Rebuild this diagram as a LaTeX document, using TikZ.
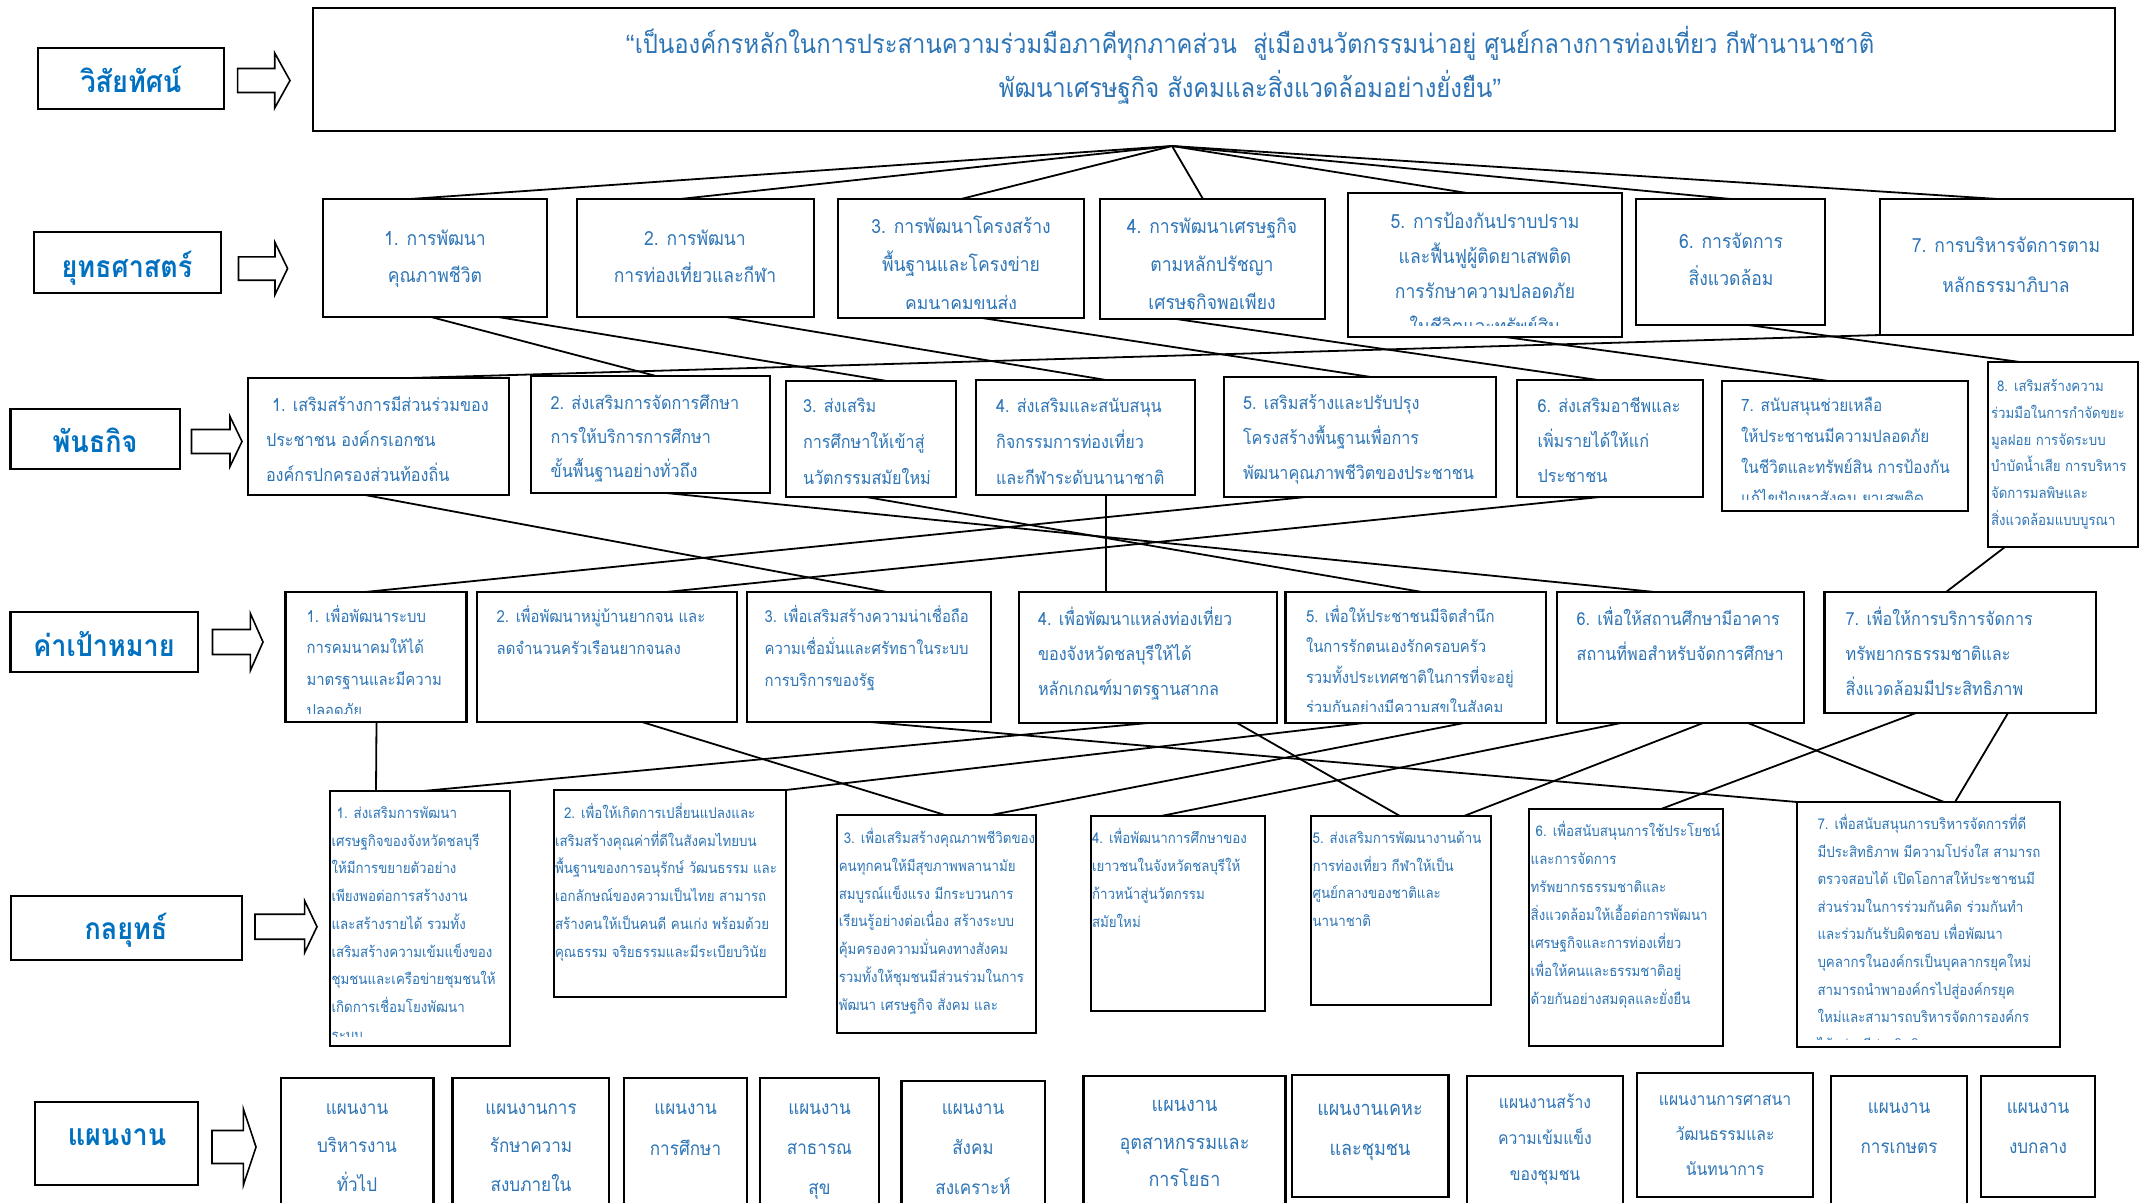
\documentclass[tikz,border=0pt]{standalone}
\usepackage{fontspec}
\newfontfamily\thai[Script=Thai,FakeStretch=0.9]{Loma}
\newfontfamily\latq{Liberation Sans}
\usetikzlibrary{fit}
\definecolor{txtblue}{RGB}{46,117,182}
\definecolor{labblue}{RGB}{0,112,192}
\newcommand\fs[2]{\thai\fontsize{#1}{#2}\selectfont}
% #1 name, #2 #3 corners, #4 clip inset bottom, #5 node options (at = x, first baseline - 34), #6 text
\newcommand\boxtext[6]{%
  \node[bx, fit={#2 #3}] (#1) {};
  \begin{scope}
    \clip ([xshift=1pt,yshift=-1pt]#1.north west) rectangle ([xshift=-1pt,yshift=#4pt]#1.south east);
    \node[#5] (#1t) {\rule{0pt}{34pt}#6};
  \end{scope}}
\newcommand\blockarrow[6]{%
  \draw[barrow] (#1,{#4-#5}) -- (#2,{#4-#5}) -- (#2,{#4-#6}) -- (#3,#4) -- (#2,{#4+#6}) -- (#2,{#4+#5}) -- (#1,{#4+#5}) -- cycle;}
\begin{document}
\begin{tikzpicture}[x=1pt,y=-1pt,
  bx/.style={draw=black, line width=2.2pt, inner sep=0pt, outer sep=0pt},
  lab/.style={font=\thai\bfseries\fontsize{30}{36}\selectfont, text=labblue, anchor=base, inner sep=0pt},
  tx/.style={text=txtblue, inner sep=0pt, outer sep=0pt},
  txl/.style={tx, align=left, anchor=north west},
  txc/.style={tx, align=center, anchor=north},
  conn/.style={draw=black, line width=1.8pt},
  barrow/.style={draw=black, line width=1.6pt, fill=white, line join=miter}]
\clip (0,0) rectangle (2154,1202);
\fill[white] (0,0) rectangle (2154,1202);

% ---------- left labels ----------
\node[bx, fit={(38,48)(224,109)}] (l1) {};
\node[lab] (l1t) at (131,92) {วิสัยทัศน์};
\node[bx, fit={(34,232)(221,293)}] (l2) {};
\node[lab] (l2t) at (127,277) {ยุทธศาสตร์};
\node[bx, fit={(10.5,409)(180,469)}] (l3) {};
\node[lab] (l3t) at (95,452) {พันธกิจ};
\node[bx, fit={(10.5,612)(198,672)}] (l4) {};
\node[lab] (l4t) at (104,656) {ค่าเป้าหมาย};
\node[bx, fit={(11,896)(242,960)}] (l5) {};
\node[lab] (l5t) at (126,939) {กลยุทธ์};
\node[bx, fit={(35,1102)(198,1185)}] (l6) {};
\node[lab] (l6t) at (117,1145) {แผนงาน};

\blockarrow{237.6}{274.7}{290}{80.5}{12}{27.5}
\blockarrow{238.5}{275}{287.6}{268.5}{11.7}{26}
\blockarrow{191.5}{230}{242}{441.5}{12}{25}
\blockarrow{212.5}{250.4}{263}{642}{12.5}{28.5}
\blockarrow{255}{304.6}{317}{926.7}{12.5}{26}
\blockarrow{212}{243.4}{256}{1147}{16.5}{38}

% ---------- vision ----------
\boxtext{vis}{(313,8)}{(2115,131)}{2}{txc, font=\fs{26.5}{44}, at={(1250,19)}}{{\latq “}เป็นองค์กรหลักในการประสานความร่วมมือภาคีทุกภาคส่วน\ \ สู่เมืองนวัตกรรมน่าอยู่ ศูนย์กลางการท่องเที่ยว กีฬานานาชาติ\\พัฒนาเศรษฐกิจ สังคมและสิ่งแวดล้อมอย่างยั่งยืน{\latq ”}}

% ---------- strategies ----------
\boxtext{s1}{(323,199)}{(547,317)}{10}{txc, font=\fs{19.5}{37}, at={(435,211)}}{1. การพัฒนา\\คุณภาพชีวิต}
\boxtext{s2}{(577,199)}{(814,317)}{10}{txc, font=\fs{19.5}{37}, at={(695,211)}}{2. การพัฒนา\\การท่องเที่ยวและกีฬา}
\boxtext{s3}{(838,199)}{(1084,318)}{10}{txc, font=\fs{19.5}{38.5}, at={(961,199)}}{3. การพัฒนาโครงสร้าง\\พื้นฐานและโครงข่าย\\คมนาคมขนส่ง}
\boxtext{s4}{(1100,199)}{(1325,319)}{10}{txc, font=\fs{19.5}{38}, at={(1212,199)}}{4. การพัฒนาเศรษฐกิจ\\ตามหลักปรัชญา\\เศรษฐกิจพอเพียง}
\boxtext{s5}{(1348,193)}{(1622,337)}{12}{txc, font=\fs{19.5}{35}, at={(1485,194)}}{5. การป้องกันปราบปราม\\และฟื้นฟูผู้ติดยาเสพติด\\การรักษาความปลอดภัย\\ในชีวิตและทรัพย์สิน}
\boxtext{s6}{(1636,199)}{(1825,325)}{8}{txc, font=\fs{19.5}{37}, at={(1731,214)}}{6. การจัดการ\\สิ่งแวดล้อม}
\boxtext{s7}{(1880,199)}{(2133,335)}{8}{txc, font=\fs{19.5}{40}, at={(2006,218)}}{7. การบริหารจัดการตาม\\หลักธรรมาภิบาล}

% ---------- missions ----------
\boxtext{m1}{(248,378)}{(509,495)}{4}{txl, font=\fs{18}{35}, at={(266,377)}}{\hspace{6pt}1. เสริมสร้างการมีส่วนร่วมของ\\ประชาชน องค์กรเอกชน\\องค์กรปกครองส่วนท้องถิ่น}
\boxtext{m2}{(531,376)}{(770,493)}{4}{txl, font=\fs{18}{34}, at={(550.7,375)}}{2. ส่งเสริมการจัดการศึกษา\\การให้บริการการศึกษา\\ขั้นพื้นฐานอย่างทั่วถึง}
\boxtext{m3}{(786,381)}{(956,497)}{4}{txl, font=\fs{18}{36}, at={(803,378)}}{3. ส่งเสริม\\การศึกษาให้เข้าสู่\\นวัตกรรมสมัยใหม่}
\boxtext{m4}{(976,380)}{(1195,495)}{4}{txl, font=\fs{18}{36}, at={(996,378)}}{4. ส่งเสริมและสนับสนุน\\กิจกรรมการท่องเที่ยว\\และกีฬาระดับนานาชาติ}
\boxtext{m5}{(1224,377)}{(1496,497)}{4}{txl, font=\fs{18}{35}, at={(1243,375)}}{5. เสริมสร้างและปรับปรุง\\โครงสร้างพื้นฐานเพื่อการ\\พัฒนาคุณภาพชีวิตของประชาชน}
\boxtext{m6}{(1517,380)}{(1703,497)}{4}{txl, font=\fs{18}{35}, at={(1537.5,378)}}{6. ส่งเสริมอาชีพและ\\เพิ่มรายได้ให้แก่\\ประชาชน}
\boxtext{m7}{(1722,381)}{(1968,511)}{12}{txl, font=\fs{17}{31}, at={(1741,377)}}{7. สนับสนุนช่วยเหลือ\\ให้ประชาชนมีความปลอดภัย\\ในชีวิตและทรัพย์สิน การป้องกัน\\แก้ไขปัญหาสังคม ยาเสพติด}
\boxtext{m8}{(1988,362)}{(2138,547)}{4}{txl, font=\fs{14.7}{26.8}, at={(1991,357.5)}}{\hspace{6pt}8. เสริมสร้างความ\\ร่วมมือในการกำจัดขยะ\\มูลฝอย การจัดระบบ\\บำบัดน้ำเสีย การบริหาร\\จัดการมลพิษและ\\สิ่งแวดล้อมแบบบูรณา}

% ---------- targets ----------
\boxtext{t1}{(285.5,592)}{(466.5,722)}{9}{txl, font=\fs{16.5}{31.5}, at={(306.6,588)}}{1. เพื่อพัฒนาระบบ\\การคมนาคมให้ได้\\มาตรฐานและมีความ\\ปลอดภัย}
\boxtext{t2}{(477,592)}{(737,722)}{9}{txl, font=\fs{16.5}{32}, at={(496.7,588)}}{2. เพื่อพัฒนาหมู่บ้านยากจน และ\\ลดจำนวนครัวเรือนยากจนลง}
\boxtext{t3}{(747,592)}{(991,722)}{9}{txl, font=\fs{16.5}{32}, at={(764.6,588)}}{3. เพื่อเสริมสร้างความน่าเชื่อถือ\\ความเชื่อมั่นและศรัทธาในระบบ\\การบริการของรัฐ}
\boxtext{t4}{(1019,592)}{(1277,723)}{9}{txl, font=\fs{18}{35}, at={(1038,591)}}{4. เพื่อพัฒนาแหล่งท่องเที่ยว\\ของจังหวัดชลบุรีให้ได้\\หลักเกณฑ์มาตรฐานสากล}
\boxtext{t5}{(1285.5,592)}{(1546,723)}{12}{txl, font=\fs{16.5}{30.5}, at={(1306,588)}}{5. เพื่อให้ประชาชนมีจิตสำนึก\\ในการรักตนเองรักครอบครัว\\รวมทั้งประเทศชาติในการที่จะอยู่\\ร่วมกันอย่างมีความสุขในสังคม}
\boxtext{t6}{(1557,592)}{(1804,723)}{9}{txl, font=\fs{18}{35}, at={(1576.6,591)}}{6. เพื่อให้สถานศึกษามีอาคาร\\สถานที่พอสำหรับจัดการศึกษา}
\boxtext{t7}{(1824.5,592)}{(2096,713)}{6}{txl, font=\fs{18}{35}, at={(1845.7,591)}}{7. เพื่อให้การบริการจัดการ\\ทรัพยากรธรรมชาติและ\\สิ่งแวดล้อมมีประสิทธิภาพ}

% ---------- tactics ----------
\boxtext{c1}{(330,791)}{(510,1046)}{10}{txl, font=\fs{14.8}{27.7}, at={(331.6,784.5)}}{\hspace{5pt}1. ส่งเสริมการพัฒนา\\เศรษฐกิจของจังหวัดชลบุรี\\ให้มีการขยายตัวอย่าง\\เพียงพอต่อการสร้างงาน\\และสร้างรายได้ รวมทั้ง\\เสริมสร้างความเข้มแข็งของ\\ชุมชนและเครือข่ายชุมชนให้\\เกิดการเชื่อมโยงพัฒนา\\ระบบ}
\boxtext{c2}{(554,790)}{(786,997)}{4}{txl, font=\fs{14.8}{27.7}, at={(555,784.5)}}{\hspace{9pt}2. เพื่อให้เกิดการเปลี่ยนแปลงและ\\เสริมสร้างคุณค่าที่ดีในสังคมไทยบน\\พื้นฐานของการอนุรักษ์ วัฒนธรรม และ\\เอกลักษณ์ของความเป็นไทย สามารถ\\สร้างคนให้เป็นคนดี คนเก่ง พร้อมด้วย\\คุณธรรม จริยธรรมและมีระเบียบวินัย}
\boxtext{c3}{(837,815)}{(1036,1033)}{4}{txl, font=\fs{14.8}{27.8}, at={(838.8,809.5)}}{\hspace{5pt}3. เพื่อเสริมสร้างคุณภาพชีวิตของ\\คนทุกคนให้มีสุขภาพพลานามัย\\สมบูรณ์แข็งแรง มีกระบวนการ\\เรียนรู้อย่างต่อเนื่อง สร้างระบบ\\คุ้มครองความมั่นคงทางสังคม\\รวมทั้งให้ชุมชนมีส่วนร่วมในการ\\พัฒนา เศรษฐกิจ สังคม และ}
\boxtext{c4}{(1091,816)}{(1265,1011)}{4}{txl, font=\fs{14.8}{28}, at={(1092,809.5)}}{4. เพื่อพัฒนาการศึกษาของ\\เยาวชนในจังหวัดชลบุรีให้\\ก้าวหน้าสู่นวัตกรรม\\สมัยใหม่}
\boxtext{c5}{(1311,816)}{(1491,1005)}{4}{txl, font=\fs{14.8}{27.5}, at={(1312.6,809.5)}}{5. ส่งเสริมการพัฒนางานด้าน\\การท่องเที่ยว กีฬาให้เป็น\\ศูนย์กลางของชาติและ\\นานาชาติ}
\boxtext{c6}{(1529,809)}{(1723,1046)}{4}{txl, font=\fs{14.8}{28}, at={(1530.7,802.5)}}{\hspace{5pt}6. เพื่อสนับสนุนการใช้ประโยชน์\\และการจัดการ\\ทรัพยากรธรรมชาติและ\\สิ่งแวดล้อมให้เอื้อต่อการพัฒนา\\เศรษฐกิจและการท่องเที่ยว\\เพื่อให้คนและธรรมชาติอยู่\\ด้วยกันอย่างสมดุลและยั่งยืน}
\boxtext{c7}{(1797,802)}{(2060,1047)}{8}{txl, font=\fs{14.8}{27.6}, at={(1817.5,795.5)}}{7. เพื่อสนับสนุนการบริหารจัดการที่ดี\\มีประสิทธิภาพ มีความโปร่งใส สามารถ\\ตรวจสอบได้ เปิดโอกาสให้ประชาชนมี\\ส่วนร่วมในการร่วมกันคิด ร่วมกันทำ\\และร่วมกันรับผิดชอบ เพื่อพัฒนา\\บุคลากรในองค์กรเป็นบุคลากรยุคใหม่\\สามารถนำพาองค์กรไปสู่องค์กรยุค\\ใหม่และสามารถบริหารจัดการองค์กร\\ได้อย่างมีประสิทธิภาพ}

% ---------- plans ----------
\boxtext{p1}{(281,1078)}{(433.5,1215)}{2}{txc, font=\fs{19}{38.5}, at={(357,1080)}}{แผนงาน\\บริหารงาน\\ทั่วไป}
\boxtext{p2}{(452.5,1078)}{(609,1215)}{2}{txc, font=\fs{19}{38.5}, at={(531,1080)}}{แผนงานการ\\รักษาความ\\สงบภายใน}
\boxtext{p3}{(624,1078)}{(747,1215)}{2}{txc, font=\fs{19}{41}, at={(685.5,1080)}}{แผนงาน\\การศึกษา}
\boxtext{p4}{(760,1078)}{(879,1215)}{2}{txc, font=\fs{19}{40}, at={(819.5,1080)}}{แผนงาน\\สาธารณ\\สุข}
\boxtext{p5}{(901.5,1081)}{(1045,1215)}{2}{txc, font=\fs{19}{40}, at={(973,1080)}}{แผนงาน\\สังคม\\สงเคราะห์}
\boxtext{p6}{(1083.4,1076)}{(1285.5,1215)}{2}{txc, font=\fs{20}{37.5}, at={(1184.5,1077.7)}}{แผนงาน\\อุตสาหกรรมและ\\การโยธา}
\boxtext{p7}{(1292,1075)}{(1448.5,1197)}{2}{txc, font=\fs{20}{40}, at={(1370,1081)}}{แผนงานเคหะ\\และชุมชน}
\boxtext{p8}{(1467,1076)}{(1623,1215)}{2}{txc, font=\fs{17.5}{36}, at={(1545,1074)}}{แผนงานสร้าง\\ความเข้มแข็ง\\ของชุมชน}
\boxtext{p9}{(1637,1073)}{(1813,1197)}{2}{txc, font=\fs{17.5}{35}, at={(1725,1071)}}{แผนงานการศาสนา\\วัฒนธรรมและ\\นันทนาการ}
\boxtext{p10}{(1831,1076)}{(1967,1215)}{2}{txc, font=\fs{19}{40}, at={(1899,1079)}}{แผนงาน\\การเกษตร}
\boxtext{p11}{(1981,1076)}{(2095,1197)}{2}{txc, font=\fs{19}{40}, at={(2038,1079)}}{แผนงาน\\งบกลาง}

% ---------- connectors ----------
\coordinate (hub) at (1172,146);
\foreach \b/\o in {s1/87,s2/103,s3/123,s4/103,s5/119,s6/95,s7/118}
  \draw[conn] (hub) -- ([xshift=\o pt]\b.north west);

% strategies -> missions
\foreach \a/\oa/\b/\ob in {s1/108/m2/125, s1/175/m3/101, s2/149/m4/130, s3/144/m5/147,
  s4/76/m6/81, s5/157/m7/107, s6/112/m8/32, s7/0/m1/162}
  \draw[conn] ([xshift=\oa pt]\a.south west) -- ([xshift=\ob pt]\b.north west);

% missions -> targets
\foreach \a/\oa/\b/\ob in {m5/82/t1/79.5, m6/83/t2/189, m1/117/t3/140, m4/130/t4/87,
  m3/80/t5/136.5, m2/135/t6/98, m8/17/t7/121.5}
  \draw[conn] ([xshift=\oa pt]\a.south west) -- ([xshift=\ob pt]\b.north west);

% targets -> tactics
\foreach \a/\oa/\b/\ob in {t1/91/c1/46, t2/165/c3/108, t3/123/c7/0, t4/129/c1/93,
  t4/218/c5/89, t5/78.5/c2/232, t5/178.5/c3/154, t6/64/c4/70, t6/146/c5/153,
  t6/191/c7/147, t7/91.5/c6/132, t7/183.5/c7/158}
  \draw[conn] ([xshift=\oa pt]\a.south west) -- ([xshift=\ob pt]\b.north west);
\end{tikzpicture}
\end{document}
